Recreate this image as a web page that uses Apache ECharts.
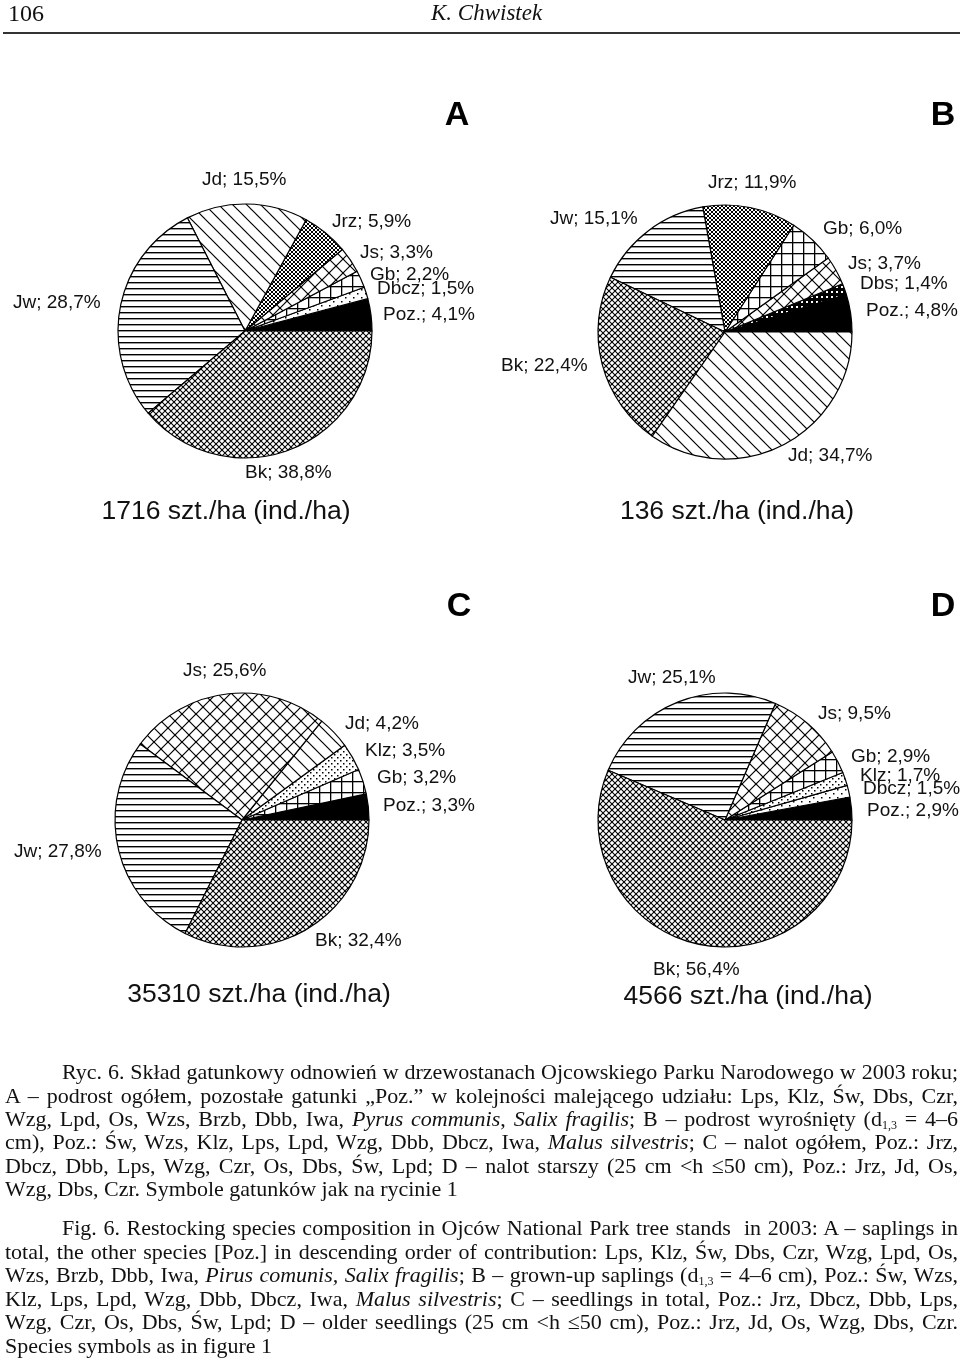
<!DOCTYPE html>
<html><head><meta charset="utf-8">
<script src="https://cdn.jsdelivr.net/npm/echarts@6/dist/echarts.min.js"></script>
<style>
html,body{margin:0;padding:0;background:#fff;}
#chart{position:absolute;left:0;top:0;width:960px;height:1368px;}
.hdr{position:absolute;font-family:"Liberation Serif","Times New Roman",serif;color:#111;white-space:nowrap;}
.rule{position:absolute;left:3px;top:32px;width:957px;height:2px;background:#333;}
.cap{position:absolute;left:5px;width:953px;font-family:"Liberation Serif","Times New Roman",serif;font-size:22px;line-height:23px;height:23px;color:#111;white-space:nowrap;text-align:justify;text-align-last:justify;}
.cap.ind{left:62px;width:896px;}
.cap.last{text-align:left;text-align-last:left;}
.cap sub{font-size:12px;line-height:0;vertical-align:-3px;}
</style></head>
<body>
<div id="chart"></div>
<div class="hdr" style="left:8px;top:0px;font-size:24px;line-height:26px;">106</div>
<div class="hdr" style="left:431px;top:0px;font-size:23px;line-height:26px;font-style:italic;">K. Chwistek</div>
<div class="rule"></div>

<div class="cap ind" style="top:1060px">Ryc. 6. Skład gatunkowy odnowień w drzewostanach Ojcowskiego Parku Narodowego w 2003 roku;</div>
<div class="cap" style="top:1084px">A – podrost ogółem, pozostałe gatunki „Poz.” w kolejności malejącego udziału: Lps, Klz, Św, Dbs, Czr,</div>
<div class="cap" style="top:1107px">Wzg, Lpd, Os, Wzs, Brzb, Dbb, Iwa, <i>Pyrus communis</i>, <i>Salix fragilis</i>; B – podrost wyrośnięty (d<sub>1,3</sub> = 4–6</div>
<div class="cap" style="top:1130px">cm), Poz.: Św, Wzs, Klz, Lps, Lpd, Wzg, Dbb, Dbcz, Iwa, <i>Malus silvestris</i>; C – nalot ogółem, Poz.: Jrz,</div>
<div class="cap" style="top:1154px">Dbcz, Dbb, Lps, Wzg, Czr, Os, Dbs, Św, Lpd; D – nalot starszy (25 cm &lt;h ≤50 cm), Poz.: Jrz, Jd, Os,</div>
<div class="cap last" style="top:1177px">Wzg, Dbs, Czr. Symbole gatunków jak na rycinie 1</div>

<div class="cap ind" style="top:1216px">Fig. 6. Restocking species composition in Ojców National Park tree stands &nbsp;in 2003: A – saplings in</div>
<div class="cap" style="top:1240px">total, the other species [Poz.] in descending order of contribution: Lps, Klz, Św, Dbs, Czr, Wzg, Lpd, Os,</div>
<div class="cap" style="top:1263px">Wzs, Brzb, Dbb, Iwa, <i>Pirus comunis, Salix fragilis</i>; B – grown-up saplings (d<sub>1,3</sub> = 4–6 cm), Poz.: Św, Wzs,</div>
<div class="cap" style="top:1287px">Klz, Lps, Lpd, Wzg, Dbb, Dbcz, Iwa, <i>Malus silvestris</i>; C – seedlings in total, Poz.: Jrz, Dbcz, Dbb, Lps,</div>
<div class="cap" style="top:1310px">Wzg, Czr, Os, Dbs, Św, Lpd; D – older seedlings (25 cm &lt;h ≤50 cm), Poz.: Jrz, Jd, Os, Wzg, Dbs, Czr.</div>
<div class="cap last" style="top:1334px">Species symbols as in figure 1</div>

<script>
// ---- DATA ----
const namesA = ['Poz.', 'Dbcz', 'Gb', 'Js', 'Jrz', 'Jd', 'Jw', 'Bk'];
const valuesA = [4.1, 1.5, 2.2, 3.3, 5.9, 15.5, 28.7, 38.8];
const namesB = ['Poz.', 'Dbs', 'Js', 'Gb', 'Jrz', 'Jw', 'Bk', 'Jd'];
const valuesB = [4.8, 1.4, 3.7, 6.0, 11.9, 15.1, 22.4, 34.7];
const namesC = ['Poz.', 'Gb', 'Klz', 'Jd', 'Js', 'Jw', 'Bk'];
const valuesC = [3.3, 3.2, 3.5, 4.2, 25.6, 27.8, 32.4];
const namesD = ['Poz.', 'Dbcz', 'Klz', 'Gb', 'Js', 'Jw', 'Bk'];
const valuesD = [2.9, 1.5, 1.7, 2.9, 9.5, 25.1, 56.4];
const panelLetters = ['A', 'B', 'C', 'D'];
const densities = ['1716 szt./ha (ind./ha)', '136 szt./ha (ind./ha)', '35310 szt./ha (ind./ha)', '4566 szt./ha (ind./ha)'];

// ---- LAYOUT ----
const centers = [[245, 331], [725, 332], [242, 820], [725, 820]];
const pieR = 127;
const labelPos = [
  [[383, 315], [377, 289], [370, 275], [360, 253], [332, 222], [202, 180], [13, 303], [245, 473]],
  [[866, 311], [860, 284], [848, 264], [823, 229], [708, 183], [550, 219], [501, 366], [788, 456]],
  [[383, 806], [377, 778], [365, 751], [345, 724], [183, 671], [14, 852], [315, 941]],
  [[867, 811], [863, 789], [860, 776], [851, 757], [818, 714], [628, 678], [653, 970]]
];
const letterPos = [[457, 116], [943, 116], [459, 607], [943, 607]];
const densityPos = [[226, 512], [737, 512], [259, 995], [748, 997]];

// ---- PATTERNS ----
function tile(w, h, draw, bg) {
  const c = document.createElement('canvas');
  c.width = w; c.height = h;
  const g = c.getContext('2d');
  g.fillStyle = bg || '#fff'; g.fillRect(0, 0, w, h);
  g.fillStyle = '#000'; g.strokeStyle = '#000';
  draw(g, w, h);
  return { image: c, repeat: 'repeat' };
}
function diag(g, p, lw, back, fwd) {
  g.lineWidth = lw;
  for (let k = -1; k <= 1; k++) {
    if (back) { g.beginPath(); g.moveTo(-p, -p + k * p); g.lineTo(2 * p, 2 * p + k * p); g.stroke(); }
    if (fwd) { g.beginPath(); g.moveTo(-p, 2 * p + k * p); g.lineTo(2 * p, -p + k * p); g.stroke(); }
  }
}
const patterns = {
  'Jw': tile(6, 6, g => g.fillRect(0, 0, 6, 1.4)),
  'Jd': tile(14, 14, g => diag(g, 14, 1.2, true, false)),
  'Jrz': tile(4, 4, g => diag(g, 4, 1.0, true, true)),
  'Js': tile(14, 14, g => diag(g, 14, 1.2, true, true)),
  'Gb': tile(11, 11, g => { g.fillRect(0, 0, 11, 1.3); g.fillRect(0, 0, 1.3, 11); }),
  'Bk': tile(6, 6, g => diag(g, 6, 1.1, true, true)),
  'Klz': tile(6, 6, g => { g.fillRect(1, 1, 1.5, 1.5); g.fillRect(4, 4, 1.5, 1.5); }),
  'Dbcz': tile(8, 8, g => { g.fillRect(1, 1, 1.5, 1.5); g.fillRect(5, 5, 1.5, 1.5); }),
  'Dbs': tile(5, 5, g => { g.fillStyle = '#fff'; g.fillRect(1, 1, 2, 2); }, '#000'),
  'Poz.': '#000'
};

const fmt = v => v.toFixed(1).replace('.', ',');
const allNames = [namesA, namesB, namesC, namesD];
const allValues = [valuesA, valuesB, valuesC, valuesD];

const series = allNames.map((names, s) => ({
  type: 'pie',
  center: centers[s],
  radius: pieR,
  startAngle: 0,
  clockwise: false,
  silent: true,
  avoidLabelOverlap: false,
  data: names.map((n, i) => ({
    name: n, value: allValues[s][i],
    itemStyle: { color: patterns[n] }
  })),
  itemStyle: { borderColor: '#000', borderWidth: 1.2 },
  label: {
    show: true, position: 'outside',
    formatter: p => p.name + '; ' + fmt(p.value) + '%',
    color: '#111', fontFamily: 'Liberation Sans, Arial, sans-serif', fontSize: 19
  },
  labelLine: { show: false },
  labelLayout: p => ({ x: labelPos[s][p.dataIndex][0], y: labelPos[s][p.dataIndex][1], align: 'left', verticalAlign: 'middle' }),
  emphasis: { disabled: true }
}));

const graphic = [];
panelLetters.forEach((t, i) => graphic.push({
  type: 'text', x: letterPos[i][0], y: letterPos[i][1],
  style: { text: t, fill: '#000', font: 'bold 34px "Liberation Sans", Arial, sans-serif', textAlign: 'center', textVerticalAlign: 'middle' }
}));
densities.forEach((t, i) => graphic.push({
  type: 'text', x: densityPos[i][0], y: densityPos[i][1],
  style: { text: t, fill: '#111', font: '26.5px "Liberation Sans", Arial, sans-serif', textAlign: 'center', textVerticalAlign: 'middle' }
}));

const chart = echarts.init(document.getElementById('chart'), null, { renderer: 'canvas' });
chart.setOption({
  animation: false,
  backgroundColor: '#fff',
  series: series,
  graphic: graphic
});
</script>
</body></html>
